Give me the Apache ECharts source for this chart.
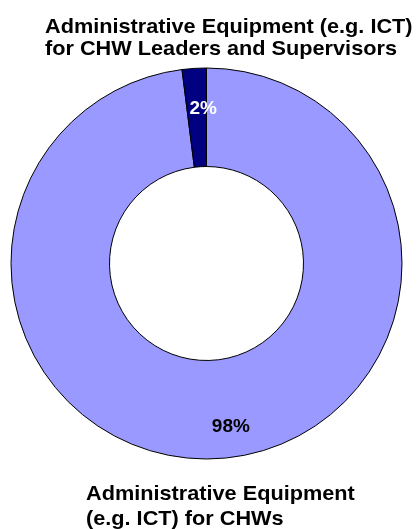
<!DOCTYPE html>
<html>
<head>
<meta charset="utf-8">
<script src="https://cdn.jsdelivr.net/npm/echarts@6/dist/echarts.min.js"></script>
<style>
  html, body { margin: 0; padding: 0; background: #fff; }
  #chart { width: 417px; height: 529px; }
</style>
</head>
<body>
<div id="chart"></div>
<script>
// Share of administrative equipment (e.g. ICT) spending by recipient group
const categories = [
  'Administrative Equipment\n(e.g. ICT) for CHWs',
  'Administrative Equipment (e.g. ICT)\nfor CHW Leaders and Supervisors'
];
const shares = [98, 2];

const sliceColors = ['#9999FF', '#000080'];
const labelColors = ['#000000', '#FFFFFF'];
// small nudges of the percentage labels away from the ring's mid-line
const labelNudge = [[15, 14.5], [6, -6]];

const FONT = 'Liberation Sans, Arial, Helvetica, sans-serif';

const chart = echarts.init(document.getElementById('chart'), null, { renderer: 'canvas' });

chart.setOption({
  backgroundColor: '#ffffff',
  animation: false,
  graphic: [
    {
      type: 'text',
      x: 45, y: 17,
      scaleX: 1.125,
      style: {
        text: categories[1],
        font: 'bold 19.3px ' + FONT,
        fill: '#000',
        textAlign: 'left',
        textVerticalAlign: 'top',
        lineHeight: 22
      }
    },
    {
      type: 'text',
      x: 86, y: 482,
      scaleX: 1.125,
      style: {
        text: categories[0],
        font: 'bold 19.3px ' + FONT,
        fill: '#000',
        textAlign: 'left',
        textVerticalAlign: 'top',
        lineHeight: 25
      }
    }
  ],
  series: [{
    type: 'pie',
    center: [206.5, 263.5],
    radius: [97, 195.5],
    startAngle: 90,
    clockwise: true,
    avoidLabelOverlap: false,
    silent: true,
    itemStyle: { borderColor: '#000', borderWidth: 1 },
    label: {
      show: true,
      position: 'inside',
      formatter: '{c}%',
      fontFamily: FONT,
      fontWeight: 'bold',
      fontSize: 19
    },
    labelLine: { show: false },
    labelLayout: function (p) {
      const n = labelNudge[p.dataIndex];
      return { dx: n[0], dy: n[1] };
    },
    data: categories.map((name, i) => ({
      name: name,
      value: shares[i],
      itemStyle: { color: sliceColors[i] },
      label: { color: labelColors[i] }
    }))
  }]
});
</script>
</body>
</html>
